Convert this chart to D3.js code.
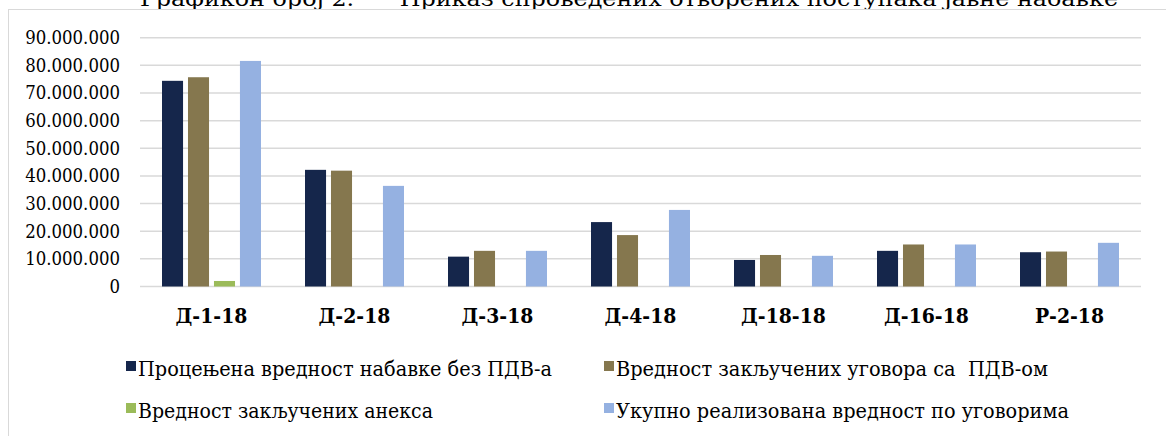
<!DOCTYPE html>
<html>
  <head>
    <meta charset="utf-8">
    <script src="https://d3js.org/d3.v7.min.js"></script>
    <style>
      body { margin: 0; background: #fff; }
    </style>
  </head>
  <body>
    <svg width="1166" height="436" id="chart"></svg>
    <script>
      // values, in dinars
      const categories = ["Д-1-18", "Д-2-18", "Д-3-18", "Д-4-18", "Д-18-18", "Д-16-18", "Р-2-18"];
      const procenjena = [74400000, 42200000, 10800000, 23300000, 9600000, 12900000, 12400000];
      const ugovori = [75700000, 41900000, 12900000, 18600000, 11400000, 15200000, 12650000];
      const aneksi = [2000000, 0, 0, 0, 0, 0, 0];
      const ukupno = [81600000, 36400000, 12900000, 27700000, 11100000, 15200000, 15800000];
      const seriesNames = [
        "Процењена вредност набавке без ПДВ-а",
        "Вредност закључених уговора са  ПДВ-ом",
        "Вредност закључених анекса",
        "Укупно реализована вредност по уговорима"
      ];
      const yTicks = [0, 10000000, 20000000, 30000000, 40000000, 50000000, 60000000, 70000000, 80000000, 90000000];
      const title = "Графикон број 2.      Приказ спроведених отворених поступака јавне набавке";

      const colors = ["#15264b", "#85774e", "#9bbb59", "#95b1e1"];
      const allSeries = [procenjena, ugovori, aneksi, ukupno];
      const serif = "'DejaVu Serif', serif";

      let svg = d3.select("#chart");

      // squeeze DejaVu Serif a bit so it sits closer to Times widths
      function condense(sel, f) {
        sel.each(function () {
          let w = this.getComputedTextLength();
          d3.select(this).attr("textLength", w * f).attr("lengthAdjust", "spacingAndGlyphs");
        });
      }

      // title (cut by the top edge, as in the source)
      svg.append("text")
        .attr("x", 140)
        .attr("y", 6)
        .attr("font-family", serif)
        .attr("font-size", 21)
        .style("white-space", "pre")
        .attr("fill", "#000")
        .attr("textLength", 978)
        .attr("lengthAdjust", "spacingAndGlyphs")
        .text(title);

      // chart frame
      svg.append("rect")
        .attr("x", 8.5)
        .attr("y", 9.5)
        .attr("width", 1200)
        .attr("height", 500)
        .attr("fill", "none")
        .attr("stroke", "#d9d9d9")
        .attr("stroke-width", 1);

      let x0 = d3.scaleBand().domain(categories).range([140, 1141]);
      let x1 = d3.scaleBand().domain(d3.range(4)).range([22, 121]).paddingInner(0.19);
      let y = d3.scaleLinear().domain([0, 90000000]).range([286.5, 37.7]);

      const fmt = d3.formatLocale({ decimal: ",", thousands: ".", grouping: [3], currency: ["", ""] }).format(",");

      // gridlines
      svg.append("g").selectAll("line").data(yTicks)
        .join("line")
        .attr("x1", 140)
        .attr("x2", 1141)
        .attr("y1", d => y(d))
        .attr("y2", d => y(d))
        .attr("stroke", "#d9d9d9")
        .attr("stroke-width", 1.5);

      // y labels
      svg.append("g").selectAll("text").data(yTicks)
        .join("text")
        .attr("x", 120)
        .attr("y", d => y(d))
        .attr("dy", "0.36em")
        .attr("text-anchor", "end")
        .attr("font-family", serif)
        .attr("font-size", 18)
        .attr("fill", "#000")
        .text(d => fmt(d))
        .call(condense, 0.92);

      // bars
      let groups = svg.append("g").selectAll("g").data(categories)
        .join("g")
        .attr("transform", d => `translate(${x0(d)},0)`);

      groups.selectAll("rect")
        .data((c, i) => allSeries.map((s, k) => ({ k: k, v: s[i] })))
        .join("rect")
        .attr("x", d => x1(d.k))
        .attr("width", x1.bandwidth())
        .attr("y", d => y(d.v))
        .attr("height", d => y(0) - y(d.v))
        .attr("fill", d => colors[d.k]);

      // category labels
      svg.append("g").selectAll("text").data(categories)
        .join("text")
        .attr("x", d => x0(d) + x0.bandwidth() / 2)
        .attr("y", 323)
        .attr("text-anchor", "middle")
        .attr("font-family", serif)
        .attr("font-size", 20.5)
        .attr("font-weight", "bold")
        .attr("fill", "#000")
        .text(d => d)
        .call(condense, 0.92);

      // legend
      const legendX = [138, 616];
      const legendY = [376, 418];
      const legendW = [414, 432, 295, 453];
      let legend = svg.append("g").selectAll("g").data(seriesNames)
        .join("g")
        .attr("transform", (d, i) => `translate(${legendX[i % 2]},${legendY[Math.floor(i / 2)]})`);

      legend.append("rect")
        .attr("x", -12)
        .attr("y", -15)
        .attr("width", 10)
        .attr("height", 10)
        .attr("fill", (d, i) => colors[i]);

      legend.append("text")
        .attr("x", 0)
        .attr("y", 0)
        .attr("font-family", serif)
        .attr("font-size", 21)
        .style("white-space", "pre")
        .attr("fill", "#000")
        .attr("textLength", (d, i) => legendW[i])
        .attr("lengthAdjust", "spacingAndGlyphs")
        .text(d => d);
    </script>
  </body>
</html>
